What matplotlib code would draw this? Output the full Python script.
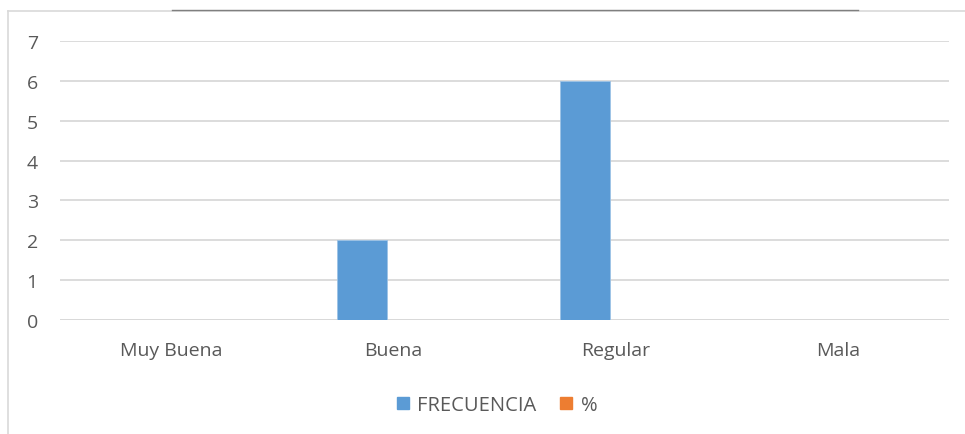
import matplotlib.pyplot as plt
import numpy as np
from matplotlib.lines import Line2D
from matplotlib.patches import Patch

categories = ["Muy Buena", "Buena", "Regular", "Mala"]
frecuencia = [0, 2, 6, 0]
porcentaje = [0, 0, 0, 0]

W, H = 965, 435
fig = plt.figure(figsize=(W / 100, H / 100), dpi=100)
plt.rcParams['font.family'] = ['Open Sans', 'DejaVu Sans']

# chart frame (Excel style border)
fig.add_artist(Line2D([8 / W, 8 / W], [0, 1 - 12 / H], color="#d9d9d9", lw=1.2))
fig.add_artist(Line2D([8 / W, 1], [1 - 12 / H, 1 - 12 / H], color="#d9d9d9", lw=1.2))
fig.add_artist(Line2D([172 / W, 858 / W], [1 - 11 / H, 1 - 11 / H], color="#7f7f7f", lw=1.0))

ax = fig.add_axes([60 / W, 114 / H, (949 - 60) / W, (393 - 114) / H])
x = np.arange(len(categories))
bw = 50 / 222.25
off = 31 / 222.25
ax.bar(x - off, frecuencia, bw, color="#5b9bd5", edgecolor="#9dc3e6", linewidth=0.6,
       label="FRECUENCIA", zorder=3)
ax.bar(x + off, porcentaje, bw, color="#ed7d31", label="%", zorder=3)

ax.set_xlim(-0.5, len(categories) - 0.5)
ax.set_ylim(0, 7)
ax.set_yticks(range(0, 8))
ax.grid(axis="y", color="#d9d9d9", lw=1.3, zorder=0)
for s in ax.spines.values():
    s.set_visible(False)
ax.axhline(0, color="#d9d9d9", lw=1.3, zorder=2)
ax.set_xticks(x)
ax.set_xticklabels(categories)
ax.tick_params(axis="both", length=0, labelsize=14, labelcolor="#595959")
ax.tick_params(axis="x", pad=15)
ax.tick_params(axis="y", pad=16)

handles = [Patch(color="#5b9bd5"), Patch(color="#ed7d31")]
fig.legend(handles, ["FRECUENCIA", "%"], loc="center", bbox_to_anchor=(497 / W, 1 - 406 / H),
           ncol=2, frameon=False, fontsize=14.5, labelcolor="#595959",
           handlelength=0.6, handleheight=0.6, handletextpad=0.4, columnspacing=1.2)

fig.savefig("out.png", dpi=100)
